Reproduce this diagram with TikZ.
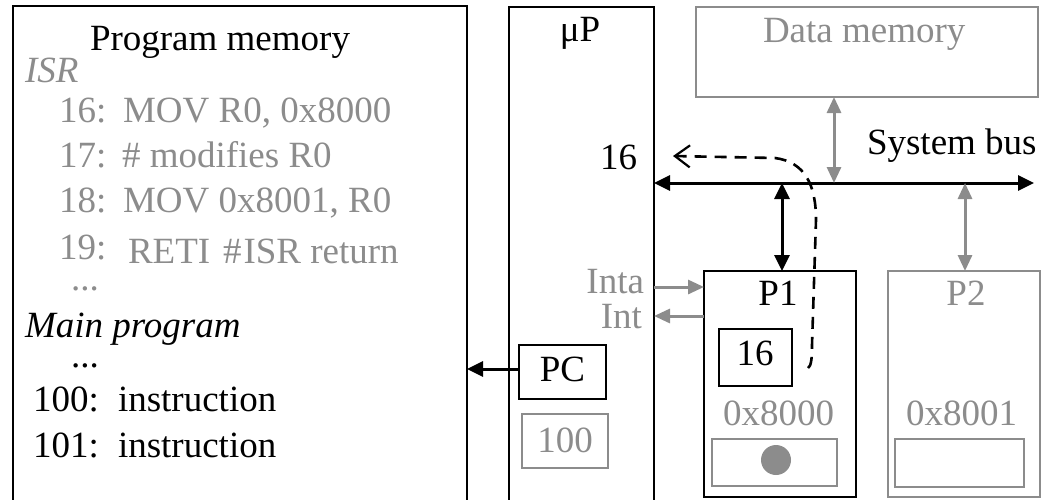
\documentclass[tikz,border=0pt]{standalone}
\usepackage{fontspec}
\setmainfont{Liberation Serif}
\usetikzlibrary{arrows.meta}
\definecolor{gry}{RGB}{140,140,140}
\begin{document}
\begin{tikzpicture}[x=1pt,y=-1pt,
  every node/.style={inner sep=0pt, outer sep=0pt, font=\fontsize{37}{40}\selectfont},
  bbox/.style={draw=black, line width=2.8pt},
  gbox/.style={draw=gry, line width=2.8pt},
  lw/.style={anchor=base west},
  lc/.style={anchor=base},
  le/.style={anchor=base east},
  gt/.style={text=gry},
  barrow/.style={draw=black, line width=3pt, -{Triangle[length=16pt,width=15pt]}},
  garrow/.style={draw=gry, line width=3pt, -{Triangle[length=16pt,width=14pt]}},
  bdarrow/.style={draw=black, line width=3pt, {Triangle[length=16pt,width=15pt]}-{Triangle[length=16pt,width=15pt]}},
  gdarrow/.style={draw=gry, line width=3pt, {Triangle[length=16pt,width=14pt]}-{Triangle[length=16pt,width=14pt]}},
  dasharr/.style={draw=black, line width=2.6pt, dash pattern=on 12pt off 8pt, -{Straight Barb[length=15pt,width=22pt,line width=2.2pt]}}
]
\useasboundingbox (0,0) rectangle (1049,499);
\clip (0,0) rectangle (1049,499);

% boxes
\node[bbox, minimum width=454pt, minimum height=520pt] (pm) at (240,266) {};
\node[bbox, minimum width=145pt, minimum height=523pt] (up) at (581.5,268.5) {};
\node[gbox, minimum width=342pt, minimum height=90pt] (dm) at (867,52) {};
\node[bbox, minimum width=152pt, minimum height=226pt] (p1) at (780,384) {};
\node[gbox, minimum width=152pt, minimum height=226pt] (p2) at (964,384) {};
\node[bbox, minimum width=73pt, minimum height=57pt] (reg) at (755.5,357.5) {};
\node[gbox, minimum width=125pt, minimum height=47pt] (c1) at (774.5,462.5) {};
\node[gbox, minimum width=129pt, minimum height=48pt] (c2) at (959.5,463) {};
\node[bbox, minimum width=87pt, minimum height=54pt] (pc) at (562.5,372) {};
\node[gbox, minimum width=86pt, minimum height=54pt] (pcv) at (565,441) {};
\node[circle, fill=gry, minimum size=30pt] (dot) at (776,460) {};

% program memory text
\node[lc] (tpm) at (220,50) {Program memory};
\node[lw, gt] (tisr) at (25,82) {\itshape ISR};
\node[lw, gt] (n16) at (59,122) {16:};
\node[lw, gt] (i16) at (123,122) {MOV R0, 0x8000};
\node[lw, gt] (n17) at (59,167) {17:};
\node[lw, gt] (i17) at (122,167) {\# modifies R0};
\node[lw, gt] (n18) at (59,212) {18:};
\node[lw, gt] (i18) at (123,212) {MOV 0x8001, R0};
\node[lw, gt] (n19) at (59,259) {19:};
\node[lw, gt] (i19) at (128,263) {RETI};
\node[lw, gt] (c19) at (223,263) {\#\hspace{2pt}ISR return};
\node[lw, gt] (dots1) at (71,290) {...};
\node[lw] (tmain) at (25,337) {\itshape Main program};
\node[lw] (dots2) at (71,367) {...};
\node[lw] (n100) at (33,411) {100:};
\node[lw] (i100) at (118,411) {instruction};
\node[lw] (n101) at (33,457) {101:};
\node[lw] (i101) at (118,457) {instruction};

% other labels
\node[lc] (tup) at (580,41) {μP};
\node[lw, gt] (tdm) at (763,42) {Data memory};
\node[le] (t16) at (637,169) {16};
\node[lw] (tbus) at (867,154) {System bus};
\node[le, gt] (tinta) at (644,293) {Inta};
\node[le, gt] (tint) at (642,328) {Int};
\node[lc] (tpc) at (562.5,381) {PC};
\node[lc, gt] (tpcv) at (565,452) {100};
\node[lc] (tp1) at (778,305) {P1};
\node[lc, gt] (tp2) at (966,305) {P2};
\node[lc] (treg) at (755,365) {16};
\node[lc, gt] (ta1) at (778.5,425) {0x8000};
\node[lc, gt] (ta2) at (961.5,425) {0x8001};

% connectors
\coordinate (busR) at (1034,183);
\coordinate (b1) at (834,183);
\coordinate (b2) at (782,183);
\coordinate (b3) at (965,183);
\coordinate (yinta) at (0,287);
\coordinate (yint) at (0,316);
\coordinate (dS) at (808,368);
\coordinate (dE) at (673,156);

\draw[bdarrow] (up.east |- busR) -- (busR);
\draw[gdarrow] (dm.south -| b1) -- (b1);
\draw[bdarrow] (b2) -- (b2 |- p1.north);
\draw[gdarrow] (b3) -- (b3 |- p2.north);
\draw[garrow] (up.east |- yinta) -- (p1.west |- yinta);
\draw[garrow] (p1.west |- yint) -- (up.east |- yint);
\draw[barrow] ([yshift=3pt]pc.west) -- ([yshift=3pt]pc.west -| pm.east);
\draw[dasharr] (dS) .. controls (811,366) and (812,360) .. (812,345) -- (816,220) .. controls (816,185) and (805,162) .. (775,158) -- (dE);
\end{tikzpicture}
\end{document}
